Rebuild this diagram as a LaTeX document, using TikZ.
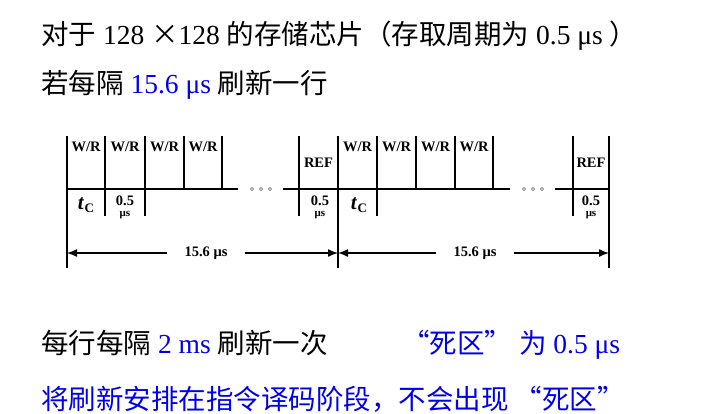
\documentclass[tikz,border=0pt]{standalone}
\usepackage{fontspec}
\setmainfont{Liberation Serif}
\newfontfamily\cjk{Noto Sans CJK SC}
\usetikzlibrary{arrows.meta}
\definecolor{tblue}{RGB}{0,0,235}
\begin{document}
\begin{tikzpicture}[x=1pt,y=-1pt,
  ln/.style={line width=1.4pt},
  lbl/.style={font=\fontsize{14.5}{14.5}\selectfont\bfseries, inner sep=0},
  unit/.style={font=\fontsize{11}{11}\selectfont\bfseries, inner sep=0},
  tclbl/.style={inner sep=0},
  dimlbl/.style={font=\fontsize{14.5}{14.5}\selectfont\bfseries, inner xsep=17pt, inner ysep=0},
  dimarrow/.style={line width=1.4pt, -{Latex[length=10pt,width=8pt]}},
  odot/.style={draw=gray, line width=0.7pt},
  txt/.style={font=\fontsize{27.5}{27.5}\selectfont, inner sep=0, anchor=base west},
]
\useasboundingbox (0,0) rectangle (725,413);

% ---- text lines ----
\node[txt] (l1) at (41,44) {{\cjk 对于} 128 {\cjk ×}128 {\cjk 的存储芯片（存取周期为} 0.5 μs {\cjk ）}};
\node[txt] (l2) at (41,93) {{\cjk 若每隔} \textcolor{tblue}{15.6 μs} {\cjk 刷新一行}};
\node[txt] (l3) at (41,353) {{\cjk 每行每隔} \textcolor{tblue}{2 ms} {\cjk 刷新一次}};
\node[txt, text=tblue] (l3b) at (402,353) {{\cjk “死区”} {\cjk 为} 0.5 μs};
\node[txt, text=tblue] (l4) at (41,409) {\cjk 将刷新安排在指令译码阶段，不会出现 “死区”};

% ---- timing diagram, section 1 ----
\def\yt{136}\def\yb{189}\def\ys{216}\def\yl{268}\def\ya{253}
\draw[ln] (67,\yt) -- (67,\yl);
\draw[ln] (105,\yt) -- (105,\ys);
\draw[ln] (145,\yt) -- (145,\ys);
\draw[ln] (184,\yt) -- (184,\yb);
\draw[ln] (222,\yt) -- (222,\yb);
\draw[ln] (67,\yb) -- (238,\yb);
\draw[ln] (283,\yb) -- (338,\yb);
\draw[ln] (299,\yt) -- (299,\ys);
\draw[ln] (338,\yt) -- (338,\yl);
\foreach \x in {252,261,270} \draw[odot] (\x,\yb) circle (1.6);

% ---- section 2 ----
\draw[ln] (377,\yt) -- (377,\ys);
\draw[ln] (416,\yt) -- (416,\yb);
\draw[ln] (455,\yt) -- (455,\yb);
\draw[ln] (493,\yt) -- (493,\yb);
\draw[ln] (338,\yb) -- (510,\yb);
\draw[ln] (555,\yb) -- (609,\yb);
\draw[ln] (573,\yt) -- (573,\ys);
\draw[ln] (609,\yt) -- (609,\yl);
\foreach \x in {524,533,542} \draw[odot] (\x,\yb) circle (1.6);

% ---- labels ----
\foreach \x/\n in {86/a,125/b,164.5/c,203/d,357.5/e,396.5/f,435.5/g,474/h}
  \node[lbl] (wr\n) at (\x,147) {W/R};
\node[lbl] (ref1) at (318.5,163) {REF};
\node[lbl] (ref2) at (591,163) {REF};
\node[tclbl] (tc1) at (86,205) {\fontsize{21}{21}\selectfont\bfseries\itshape t\kern1pt\raisebox{-2.5pt}{\fontsize{13}{13}\selectfont\upshape C}};
\node[tclbl] (tc2) at (359,205) {\fontsize{21}{21}\selectfont\bfseries\itshape t\kern1pt\raisebox{-2.5pt}{\fontsize{13}{13}\selectfont\upshape C}};
\foreach \x/\n in {125/a,320/b,591/c}{
  \node[lbl] (h\n) at (\x,200.5) {0.5};
  \node[unit] (u\n) at (\x,215) {μs};
}

% ---- dimension arrows ----
\coordinate (a0) at (67,\ya);
\coordinate (a1) at (338,\ya);
\coordinate (a2) at (609,\ya);
\node[dimlbl] (d1) at (206,\ya) {15.6 μs};
\node[dimlbl] (d2) at (475,\ya) {15.6 μs};
\draw[dimarrow] (d1.west) -- (a0);
\draw[dimarrow] (d1.east) -- (a1);
\draw[dimarrow] (d2.west) -- (a1);
\draw[dimarrow] (d2.east) -- (a2);
\end{tikzpicture}
\end{document}
